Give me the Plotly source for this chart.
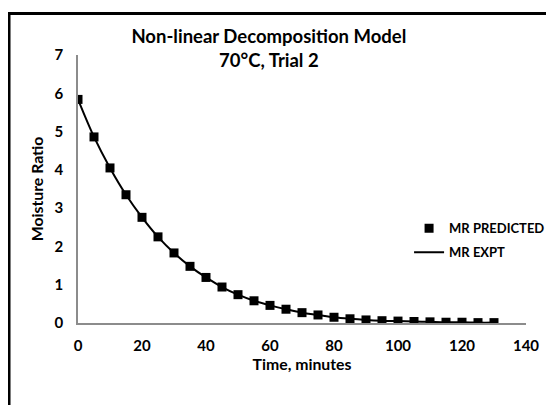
import plotly.graph_objects as go

# drying time (minutes) and moisture ratio
time_min = [0, 5, 10, 15, 20, 25, 30, 35, 40, 45, 50, 55, 60, 65,
            70, 75, 80, 85, 90, 95, 100, 105, 110, 115, 120, 125, 130]
mr_predicted = [5.84, 4.86, 4.05, 3.35, 2.76, 2.25, 1.83, 1.48, 1.19, 0.94,
                0.74, 0.58, 0.46, 0.36, 0.27, 0.21, 0.15, 0.11, 0.08, 0.06,
                0.05, 0.04, 0.03, 0.02, 0.02, 0.01, 0.01]
mr_expt = [5.84, 4.86, 4.05, 3.35, 2.76, 2.25, 1.83, 1.48, 1.19, 0.94,
           0.74, 0.58, 0.46, 0.36, 0.27, 0.21, 0.15, 0.11, 0.08, 0.06,
           0.05, 0.04, 0.03, 0.02, 0.02, 0.01, 0.01]

FONT = "Lato"
bold13 = dict(family=FONT, size=13, color="black", weight="bold")
tickf = dict(family=FONT, size=15, color="black", weight="bold")
axtitlef = dict(family=FONT, size=15.8, color="black", weight="bold")

fig = go.Figure()
fig.add_trace(go.Scatter(x=time_min, y=mr_expt, mode="lines", name="MR EXPT",
                         line=dict(color="black", width=2, shape="spline"),
                         legendrank=2, legendgroup="b"))
fig.add_trace(go.Scatter(x=time_min, y=mr_predicted, mode="markers", name="MR PREDICTED",
                         marker=dict(symbol="square", size=9, color="black"),
                         legendrank=1, legendgroup="a"))

# page body adds an 8px offset, so the figure is 8px smaller than the window
fig.update_layout(
    width=546, height=397,
    margin=dict(l=70, r=28, t=47, b=82, autoexpand=False),
    paper_bgcolor="white", plot_bgcolor="white",
    font=bold13,
    title=dict(text="Non-linear Decomposition Model<br>70°C, Trial 2",
               x=0.426, xref="paper", xanchor="center", y=0.912, yanchor="top",
               font=dict(size=18.5, family=FONT, color="black", weight="bold")),
    legend=dict(x=0.739, y=0.409, xanchor="left", yanchor="top",
                bgcolor="rgba(0,0,0,0)", font=bold13,
                tracegroupgap=4, itemwidth=30),
    showlegend=True,
)
fig.update_xaxes(range=[0, 140], tickvals=[0, 20, 40, 60, 80, 100, 120, 140],
                 showgrid=False, zeroline=False, showline=True, linecolor="#8c8c8c",
                 linewidth=1.5, ticks="", tickfont=tickf, automargin=False,
                 ticklabelstandoff=8,
                 title=dict(text="Time, minutes", standoff=4, font=axtitlef))
fig.update_yaxes(range=[0, 7], dtick=1, showgrid=False, zeroline=False,
                 showline=True, linecolor="#8c8c8c", linewidth=1.5, ticks="",
                 tickfont=tickf, automargin=False, ticklabelstandoff=10,
                 title=dict(text="Moisture Ratio", standoff=7, font=axtitlef))

# thick outer chart border (left and top visible)
fig.add_shape(type="rect", xref="paper", yref="paper",
              x0=-0.154, x1=1.1, y0=-0.35, y1=1.155,
              line=dict(color="black", width=3))

fig.write_html("out.html")
